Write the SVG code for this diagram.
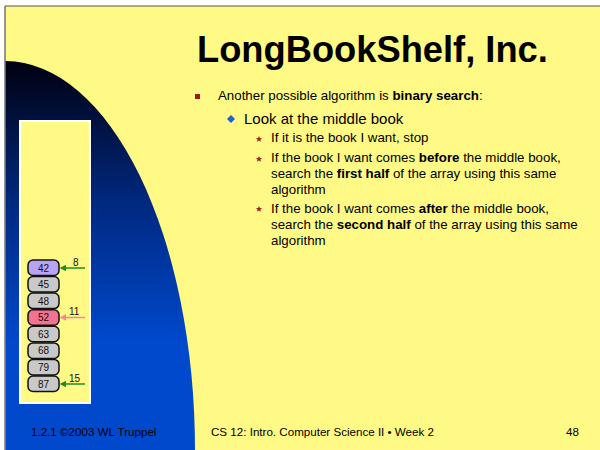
<svg xmlns="http://www.w3.org/2000/svg" width="600" height="450" viewBox="0 0 600 450">
<defs>
<linearGradient id="bg" x1="0" y1="61" x2="0" y2="340" gradientUnits="userSpaceOnUse">
<stop offset="0" stop-color="#000010"/>
<stop offset="0.5" stop-color="#00287E"/>
<stop offset="1" stop-color="#0048CC"/>
</linearGradient>
<marker id="ag" viewBox="0 0 10 10" refX="2" refY="5" markerWidth="4.5" markerHeight="4.5" orient="auto" markerUnits="strokeWidth"><path d="M0,0 L10,5 L0,10 Z" fill="#1E8C1E"/></marker>
<marker id="ap" viewBox="0 0 10 10" refX="2" refY="5" markerWidth="4.5" markerHeight="4.5" orient="auto" markerUnits="strokeWidth"><path d="M0,0 L10,5 L0,10 Z" fill="#F2879A"/></marker>
</defs>
<style>
.t{font-family:"Liberation Sans",Arial,sans-serif;fill:#000}
.bk{stroke:#111;stroke-width:1.5}
.bn{font-family:"Liberation Sans",Arial,sans-serif;font-size:10px;fill:#111;text-anchor:middle}
.lb{font-family:"Liberation Sans",Arial,sans-serif;font-size:10px;fill:#111}
.b{font-weight:bold}
</style>
<rect x="0" y="0" width="600" height="450" fill="#fff"/>
<rect x="5" y="6" width="595" height="444" fill="#FFF985"/>
<path d="M5,6 H600 M5,6 V450" stroke="#555" stroke-width="1.2" fill="none"/>
<path d="M5.6,61 A190 389 0 0 1 195 450 L5.6,450 Z" fill="url(#bg)"/>
<rect x="20" y="121" width="70" height="282" fill="#FFF985" stroke="#fff" stroke-width="2"/>

<text class="t b" x="197" y="62" font-size="36.3">LongBookShelf, Inc.</text>

<rect x="195" y="94" width="5" height="5" fill="#A01818"/>
<text class="t" x="218" y="100" font-size="13.3">Another possible algorithm is <tspan class="b">binary search</tspan>:</text>
<path d="M231,115 L235,119 L231,123 L227,119 Z" fill="#1F5FD8"/>
<text class="t" x="244" y="124" font-size="15">Look at the middle book</text>
<g fill="#A02020">
<path d="M259,136 l0.9,2.1 2.2,0.1 -1.7,1.4 0.6,2.2 -2,-1.3 -2,1.3 0.6,-2.2 -1.7,-1.4 2.2,-0.1 Z"/>
<path d="M259,156 l0.9,2.1 2.2,0.1 -1.7,1.4 0.6,2.2 -2,-1.3 -2,1.3 0.6,-2.2 -1.7,-1.4 2.2,-0.1 Z"/>
<path d="M259,206 l0.9,2.1 2.2,0.1 -1.7,1.4 0.6,2.2 -2,-1.3 -2,1.3 0.6,-2.2 -1.7,-1.4 2.2,-0.1 Z"/>
</g>
<g class="t" font-size="13.3">
<text x="271" y="142">If it is the book I want, stop</text>
<text x="271" y="162">If the book I want comes <tspan class="b">before</tspan> the middle book,</text>
<text x="271" y="178">search the <tspan class="b">first half</tspan> of the array using this same</text>
<text x="271" y="194">algorithm</text>
<text x="271" y="213">If the book I want comes <tspan class="b">after</tspan> the middle book,</text>
<text x="271" y="229">search the <tspan class="b">second half</tspan> of the array using this same</text>
<text x="271" y="245">algorithm</text>
</g>

<g id="book42"><rect class="bk" x="28" y="260" width="31" height="15.5" rx="5" fill="#B9A3F7"/><text class="bn" x="43.5" y="271.5">42</text></g>
<g id="book45"><rect class="bk" x="28" y="276.6" width="31" height="15.5" rx="5" fill="#C9C9C9"/><text class="bn" x="43.5" y="288.1">45</text></g>
<g id="book48"><rect class="bk" x="28" y="293.1" width="31" height="15.5" rx="5" fill="#C9C9C9"/><text class="bn" x="43.5" y="304.6">48</text></g>
<g id="book52"><rect class="bk" x="28" y="309.7" width="31" height="15.5" rx="5" fill="#F3728F"/><text class="bn" x="43.5" y="321.2">52</text></g>
<g id="book63"><rect class="bk" x="28" y="326.3" width="31" height="15.5" rx="5" fill="#C9C9C9"/><text class="bn" x="43.5" y="337.8">63</text></g>
<g id="book68"><rect class="bk" x="28" y="342.9" width="31" height="15.5" rx="5" fill="#C9C9C9"/><text class="bn" x="43.5" y="354.4">68</text></g>
<g id="book79"><rect class="bk" x="28" y="359.4" width="31" height="15.5" rx="5" fill="#C9C9C9"/><text class="bn" x="43.5" y="370.9">79</text></g>
<g id="book87"><rect class="bk" x="28" y="376" width="31" height="15.5" rx="5" fill="#C9C9C9"/><text class="bn" x="43.5" y="387.5">87</text></g>

<g id="connectors" stroke-width="1.5" fill="none">
<line x1="85" y1="268" x2="65" y2="268" stroke="#1E8C1E" marker-end="url(#ag)"/>
<line x1="85" y1="317.5" x2="65" y2="317.5" stroke="#F2879A" marker-end="url(#ap)"/>
<line x1="85" y1="384" x2="65" y2="384" stroke="#1E8C1E" marker-end="url(#ag)"/>
</g>
<text class="lb" x="73" y="265.5">8</text>
<text class="lb" x="69" y="315">11</text>
<text class="lb" x="69" y="381.5">15</text>

<g class="t" font-size="11.6">
<text x="31" y="436">1.2.1 ©2003 WL Truppel</text>
<text x="211" y="436">CS 12: Intro. Computer Science II • Week 2</text>
<text x="566" y="436">48</text>
</g>
</svg>
